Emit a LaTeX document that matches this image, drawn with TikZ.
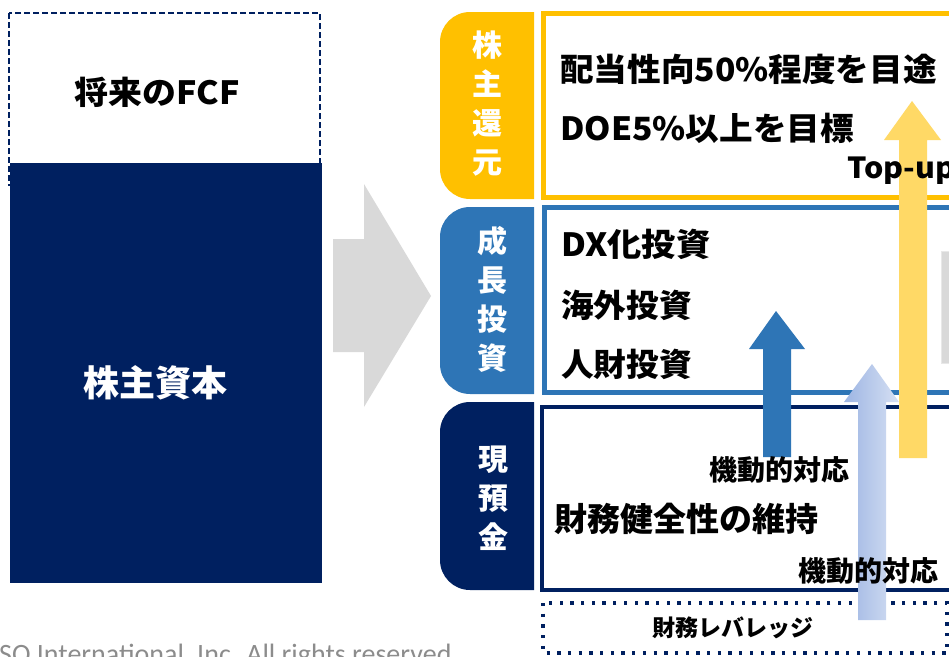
\documentclass[tikz,border=0pt]{standalone}
\usepackage{fontspec}
\setmainfont{Noto Sans CJK JP}
\newfontfamily\carl{Carlito}
\usetikzlibrary{shadings}
\definecolor{navy}{HTML}{002060}
\definecolor{gold}{HTML}{FFC000}
\definecolor{midblue}{HTML}{2E75B6}
\definecolor{paleyellow}{HTML}{FFD966}
\definecolor{lightgray}{HTML}{D9D9D9}
\definecolor{blueL}{HTML}{9DB5E3}
\definecolor{blueR}{HTML}{D6E0F3}
\definecolor{copygray}{HTML}{8C8C8C}
\tikzset{
  txt/.style={inner sep=0pt, font=\fontsize{#1}{#1}\selectfont\bfseries},
  lefttxt/.style={txt=#1, anchor=west},
  tabtxt/.style={inner sep=0pt, align=center, text=white, font=\fontsize{30}{39}\selectfont\bfseries},
}
\begin{document}
\begin{tikzpicture}[x=1pt,y=-1pt]
\useasboundingbox (0,0) rectangle (949,656);
\clip (0,0) rectangle (949,656);

% left column
\draw[navy, line width=1.8pt, dash pattern=on 6pt off 3pt] (9,13) rectangle (320,185);
\fill[navy] (10,163) rectangle (322,583);
\node[txt=32, xscale=1.06] (fcf) at (157,92) {将来のFCF};
\node[txt=36, text=white] (equity) at (155,383) {株主資本};

% big gray arrow
\fill[lightgray] (333,239) -- (364,239) -- (364,184) -- (431,296) -- (364,407) -- (364,352) -- (333,352) -- cycle;

% tabs
\begin{scope}
  \clip (430,0) rectangle (534,656);
  \fill[gold, rounded corners=30pt] (440,12) rectangle (600,199);
  \fill[midblue, rounded corners=30pt] (440,207) rectangle (600,394);
  \fill[navy, rounded corners=30pt] (440,402) rectangle (600,590);
\end{scope}
\node[tabtxt] (tab1) at (487,103.5) {株\\主\\還\\元};
\node[tabtxt] (tab2) at (492,299) {成\\長\\投\\資};
\node[tabtxt] (tab3) at (493,498.5) {現\\預\\金};

% boxes
\draw[gold, line width=5pt, fill=white] (543.5,13.5) rectangle (975,197.5);
\draw[midblue, line width=5pt, fill=white] (544.5,207) rectangle (975,392.5);
\draw[navy, line width=4pt, fill=white] (542,407) rectangle (975,589.5);
\draw[navy, line width=3.3pt, dash pattern=on 3.3pt off 7.4pt] (543,603) rectangle (947,653);

% gray rect at right
\draw[lightgray!60, fill=lightgray, line width=0.8pt] (941.5,251) rectangle (960,363);

% arrows
\fill[midblue] (763,457) -- (763,349) -- (749,349) -- (776,311) -- (805,349) -- (791,349) -- (791,457) -- cycle;
\shade[left color=blueL, right color=blueR] (858,620) -- (858,402) -- (844,402) -- (872,364) -- (899,402) -- (886,402) -- (886,620) -- cycle;
\fill[paleyellow] (899,458) -- (899,140) -- (884,140) -- (912,101) -- (941,140) -- (927,140) -- (927,458) -- cycle;

% texts
\node[lefttxt=32, xscale=1.05] (t1) at (560,69) {配当性向50\%程度を目途};
\node[lefttxt=32, xscale=1.05] (t2) at (560,128) {DOE5\%以上を目標};
\node[lefttxt=29, xscale=1.05] (topup) at (847,171) {Top-up};
\node[lefttxt=32, xscale=1.07] (g1) at (561,244) {DX化投資};
\node[lefttxt=32, xscale=1.02] (g2) at (561,305) {海外投資};
\node[lefttxt=32, xscale=1.02] (g3) at (561,364) {人財投資};
\node[txt=28] (k1) at (779,470) {機動的対応};
\node[lefttxt=33] (fin) at (554,519) {財務健全性の維持};
\node[txt=28] (k2) at (868,571) {機動的対応};
\node[txt=23] (lev) at (733,628) {財務レバレッジ};

% copyright
\node[inner sep=0pt, anchor=base west, text=copygray, font=\carl\fontsize{28}{28}\selectfont] (copy) at (-1,663) {SO International, Inc. All rights reserved.};
\end{tikzpicture}
\end{document}
